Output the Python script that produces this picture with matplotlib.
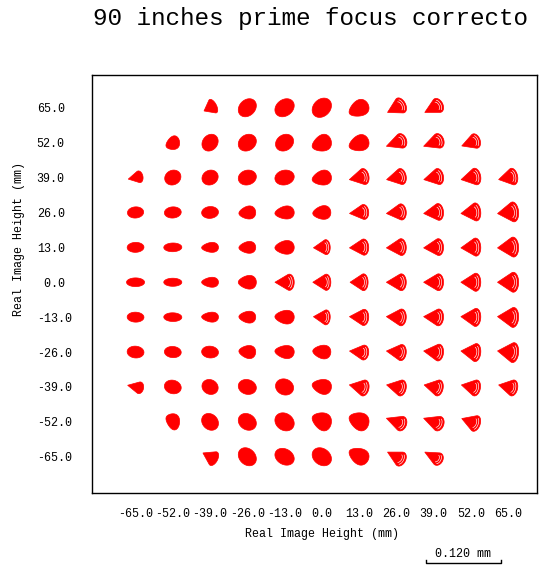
import numpy as np
import matplotlib
matplotlib.use('Agg')
import matplotlib.pyplot as plt
from matplotlib.patches import Polygon
from matplotlib.lines import Line2D

# field positions (mm)
field_x = [-65.0, -52.0, -39.0, -26.0, -13.0, 0.0, 13.0, 26.0, 39.0, 52.0, 65.0]
field_y = [65.0, 52.0, 39.0, 26.0, 13.0, 0.0, -13.0, -26.0, -39.0, -52.0, -65.0]

# spot shape per field: e = ellipse, d = egg, f = coma fan, t = triangle, . = no field
spot_kind = [
    "..teeedff..",
    ".deeeddfff.",
    "teeeedfffff",
    "eeedddfffff",
    "eedddffffff",
    "eeddfffffff",
    "eedddffffff",
    "eeedddfffff",
    "teeeedfffff",
    ".deeeddfff.",
    "..teeedff..",
]

# spot extent in micrometres
N = None
spot_w_um = [
    [N, N, 22, 29, 31, 31, 32, 32, 32, N, N],
    [N, 22, 26, 29, 29, 31, 32, 34, 34, 31, N],
    [24, 26, 26, 29, 31, 31, 32, 32, 32, 32, 31],
    [26, 27, 27, 27, 31, 29, 31, 32, 32, 32, 34],
    [27, 29, 27, 27, 31, 27, 31, 32, 32, 32, 34],
    [29, 29, 27, 29, 31, 29, 29, 32, 32, 32, 34],
    [27, 29, 27, 27, 31, 27, 31, 32, 32, 32, 34],
    [27, 27, 27, 27, 31, 29, 31, 32, 32, 32, 34],
    [26, 27, 26, 29, 29, 31, 32, 32, 31, 31, 31],
    [N, 22, 27, 29, 31, 31, 32, 34, 34, 31, N],
    [N, N, 26, 29, 31, 31, 32, 32, 32, N, N],
]
spot_h_um = [
    [N, N, 24, 29, 29, 31, 27, 26, 24, N, N],
    [N, 22, 27, 27, 27, 27, 26, 24, 24, 24, N],
    [19, 24, 24, 24, 24, 24, 26, 26, 26, 27, 27],
    [18, 18, 19, 21, 21, 22, 24, 26, 27, 29, 32],
    [16, 14, 16, 19, 22, 24, 26, 27, 27, 29, 32],
    [14, 13, 16, 22, 26, 26, 27, 27, 27, 29, 32],
    [16, 14, 16, 19, 22, 24, 26, 27, 27, 29, 32],
    [19, 18, 19, 21, 21, 22, 24, 26, 27, 29, 32],
    [19, 22, 24, 24, 26, 24, 26, 26, 26, 26, 26],
    [N, 26, 27, 27, 29, 29, 29, 24, 24, 26, N],
    [N, N, 24, 29, 27, 29, 27, 24, 21, N, N],
]
# tilt of the spots along each row (degrees)
row_tilt_deg = [28, 20, 12, 6, 3, 0, -3, -6, -12, -20, -28]

scale_bar_mm = 0.120
bar_px = 74.7

x_ticks = field_x
y_ticks = field_y

W, H = 540, 566
fig = plt.figure(figsize=(W / 100, H / 100), dpi=100)
ax = fig.add_axes([92 / W, (H - 493) / H, (537 - 92) / W, (493 - 75) / H])
ax.set_xlim(-80.2, 75.1)
ax.set_ylim(-78.5, 77.2)

mono = 'Liberation Mono'

ux = ax.bbox.width / (75.1 + 80.2)
uy = ax.bbox.height / (77.2 + 78.5)
px_per_um = bar_px / (scale_bar_mm * 1000)


def base_shape(kind):
    t = np.linspace(0, 2 * np.pi, 72)
    arcs = []
    if kind == 'e':
        outline = np.c_[np.cos(t), 0.75 * np.sin(t)]
    elif kind == 'd':
        outline = np.c_[np.cos(t), 0.75 * np.sin(t) * (1 + 0.3 * np.cos(t))]
    else:
        # fan: tip on the left, flat-ish cap on the right
        a = np.radians(np.linspace(110, -110, 50))
        cap = np.c_[0.5 + 0.5 * np.cos(a), np.sin(a)]
        outline = np.vstack([[-1, 0], cap])
        if kind == 'f':
            for xr, k in ((0.8, 0.75), (0.6, 0.6)):
                b = np.radians(np.linspace(-70, 70, 20))
                arcs.append(np.c_[xr - 0.3 + 0.3 * np.cos(b), k * np.sin(b)])
    return outline, arcs


for i, yc in enumerate(field_y):
    for j, xc in enumerate(field_x):
        kind = spot_kind[i][j]
        if kind == '.':
            continue
        outline, arcs = base_shape(kind)
        th = np.radians(row_tilt_deg[i])
        rot = np.array([[np.cos(th), -np.sin(th)], [np.sin(th), np.cos(th)]])
        w_px = spot_w_um[i][j] * px_per_um
        h_px = spot_h_um[i][j] * px_per_um
        if kind in 'ed':
            # blobs: tilt first, then fit the measured extent
            outline = outline @ rot.T
            lo, hi = outline.min(axis=0), outline.max(axis=0)
            mid = (lo + hi) / 2
            sc = np.array([w_px / (hi[0] - lo[0]), h_px / (hi[1] - lo[1])])
            pts = [(outline - mid) * sc]
        else:
            # fans: fit the measured extent, then tilt
            lo, hi = outline.min(axis=0), outline.max(axis=0)
            mid = (lo + hi) / 2
            sc = np.array([w_px / (hi[0] - lo[0]), h_px / (hi[1] - lo[1])])
            pts = [((p - mid) * sc) @ rot.T for p in [outline] + arcs]

        def to_data(p):
            return np.c_[xc + p[:, 0] / ux, yc + p[:, 1] / uy]

        ax.add_patch(Polygon(to_data(pts[0]), closed=True, fc='#ff0000',
                             ec='#ff0000', lw=0.5, zorder=2))
        for a in pts[1:]:
            d = to_data(a)
            ax.plot(d[:, 0], d[:, 1], color='white', lw=0.45, zorder=3)

ax.set_xticks(x_ticks)
ax.set_xticklabels(['%.1f' % v for v in x_ticks], fontfamily=mono, fontsize=8.4)
ax.set_yticks(y_ticks)
ax.set_yticklabels([(' %.1f' if v == 0 else '%.1f') % v for v in y_ticks],
                   fontfamily=mono, fontsize=8.4)
for lab in ax.get_yticklabels():
    lab.set_ha('left')
ax.tick_params(axis='x', length=0, pad=11)
ax.tick_params(axis='y', length=0, pad=(92 - 36.7) * 0.72)
for s in ax.spines.values():
    s.set_linewidth(1.0)
    s.set_color('black')

fig.text(322 / W, 1 - 534 / H, 'Real Image Height (mm)', ha='center', va='center',
         fontfamily=mono, fontsize=8.4)
fig.text(19 / W, 1 - 239 / H, 'Real Image Height (mm)', ha='center', va='center',
         rotation=90, fontfamily=mono, fontsize=8.4)
fig.text(93 / W, 1 - 18 / H, '90 inches prime focus correcto', ha='left', va='center',
         fontfamily=mono, fontsize=17.5)

# scale bar
bx0, by = 426, 563
bx1 = bx0 + scale_bar_mm * 1000 * px_per_um
fig.add_artist(Line2D([bx0 / W, bx0 / W, bx1 / W, bx1 / W],
                      [1 - (by - 3) / H, 1 - by / H, 1 - by / H, 1 - (by - 3) / H],
                      color='black', lw=1.0))
fig.text((bx0 + bx1) / 2 / W, 1 - 554 / H, '%.3f mm' % scale_bar_mm, ha='center',
         va='center', fontfamily=mono, fontsize=8.4)

fig.savefig('out.png', dpi=100)
